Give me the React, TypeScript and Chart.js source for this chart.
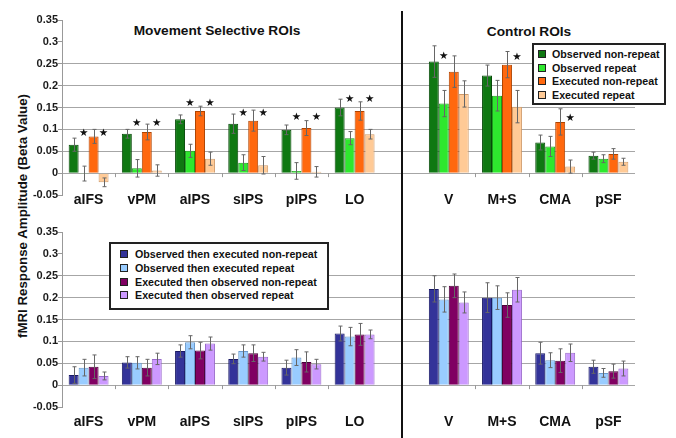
import React, { useEffect, useRef } from "react";
import { Chart, registerables } from "chart.js";

Chart.register(...registerables);

// ---------- data ----------
const movementRois = ["aIFS", "vPM", "aIPS", "sIPS", "pIPS", "LO"];
const controlRois = ["V", "M+S", "CMA", "pSF"];
const categories = [...movementRois, ...controlRois];
const yTickLabels = ["-0.05", "0", "0.05", "0.1", "0.15", "0.2", "0.25", "0.3", "0.35"];

// top panel
const obsNonRepeat = [0.065, 0.09, 0.123, 0.113, 0.099, 0.15, 0.255, 0.223, 0.07, 0.04];
const obsNonRepeatErr = [0.015, 0.01, 0.01, 0.022, 0.011, 0.019, 0.036, 0.024, 0.017, 0.008];
const obsRepeat = [-0.001, 0.011, 0.051, 0.024, 0.005, 0.08, 0.159, 0.177, 0.061, 0.033];
const obsRepeatErr = [0.017, 0.02, 0.015, 0.018, 0.019, 0.015, 0.03, 0.035, 0.023, 0.009];
const exeNonRepeat = [0.084, 0.094, 0.142, 0.12, 0.103, 0.142, 0.232, 0.248, 0.117, 0.044];
const exeNonRepeatErr = [0.016, 0.018, 0.011, 0.024, 0.017, 0.021, 0.036, 0.03, 0.03, 0.012];
const exeRepeat = [-0.021, 0.006, 0.033, 0.018, 0.003, 0.089, 0.181, 0.152, 0.015, 0.026];
const exeRepeatErr = [0.01, 0.013, 0.015, 0.02, 0.012, 0.011, 0.03, 0.037, 0.015, 0.008];
// significance stars (height of star)
const obsRepeatStars = [0.091, 0.113, 0.16, 0.136, 0.128, 0.169, 0.267, null, null, null];
const exeRepeatStars = [0.091, 0.113, 0.16, 0.136, 0.128, 0.169, null, 0.265, 0.126, null];

// bottom panel
const obsExeNonRepeat = [0.023, 0.052, 0.078, 0.06, 0.04, 0.118, 0.22, 0.2, 0.073, 0.042];
const obsExeNonRepeatErr = [0.019, 0.013, 0.014, 0.011, 0.017, 0.017, 0.03, 0.034, 0.025, 0.015];
const obsExeRepeat = [0.04, 0.051, 0.098, 0.078, 0.063, 0.111, 0.196, 0.2, 0.057, 0.028];
const obsExeRepeatErr = [0.019, 0.014, 0.015, 0.014, 0.018, 0.021, 0.029, 0.027, 0.017, 0.01];
const exeObsNonRepeat = [0.042, 0.04, 0.079, 0.073, 0.053, 0.116, 0.227, 0.183, 0.056, 0.032];
const exeObsNonRepeatErr = [0.027, 0.019, 0.019, 0.019, 0.023, 0.025, 0.027, 0.028, 0.027, 0.016];
const exeObsRepeat = [0.021, 0.06, 0.095, 0.065, 0.048, 0.116, 0.189, 0.218, 0.074, 0.038];
const exeObsRepeatErr = [0.009, 0.013, 0.015, 0.01, 0.011, 0.01, 0.024, 0.028, 0.02, 0.017];

// ---------- layout / style ----------
const W = 676;
const AREA_LEFT = 62;
const AREA_RIGHT = 635;
const GROUP_GAP = 0.77; // extra category slots between the two ROI groups
const FONT = '"Liberation Sans", Arial, Helvetica, sans-serif';

const xPositions = categories.map((_, i) => i + (i >= movementRois.length ? GROUP_GAP : 0));
const xMin = -0.5;
const xMax = xPositions[xPositions.length - 1] + 0.5;

type Series = {
  label: string;
  values: number[];
  errors: number[];
  stars?: (number | null)[];
  fill: string;
  border: string;
};

const topSeries: Series[] = [
  { label: "Observed non-repeat", values: obsNonRepeat, errors: obsNonRepeatErr, fill: "#0f7812", border: "#084a0a" },
  { label: "Observed repeat", values: obsRepeat, errors: obsRepeatErr, stars: obsRepeatStars, fill: "#2ee82e", border: "#1a9a1a" },
  { label: "Executed non-repeat", values: exeNonRepeat, errors: exeNonRepeatErr, fill: "#ff680e", border: "#b04400" },
  { label: "Executed repeat", values: exeRepeat, errors: exeRepeatErr, stars: exeRepeatStars, fill: "#ffca96", border: "#d09a68" },
];

const bottomSeries: Series[] = [
  { label: "Observed then executed non-repeat", values: obsExeNonRepeat, errors: obsExeNonRepeatErr, fill: "#333399", border: "#1a1a66" },
  { label: "Observed then executed repeat", values: obsExeRepeat, errors: obsExeRepeatErr, fill: "#99ccff", border: "#6a9acc" },
  { label: "Executed then observed non-repeat", values: exeObsNonRepeat, errors: exeObsNonRepeatErr, fill: "#800062", border: "#4a0038" },
  { label: "Executed then observed repeat", values: exeObsRepeat, errors: exeObsRepeatErr, fill: "#cc99ff", border: "#9a6acc" },
];

const decorPlugin = {
  id: "decor",
  afterDatasetsDraw(chart: any, _args: any, opts: any) {
    const ctx = chart.ctx;
    const xs = chart.scales.x;
    const ys = chart.scales.y;
    const y0 = ys.getPixelForValue(0);
    ctx.save();
    // small boundary ticks on zero line
    ctx.strokeStyle = "#999";
    ctx.lineWidth = 1;
    for (let i = 1; i < xPositions.length; i++) {
      if (i === movementRois.length) continue;
      const px = Math.round(xs.getPixelForValue((xPositions[i - 1] + xPositions[i]) / 2)) + 0.5;
      ctx.beginPath();
      ctx.moveTo(px, y0);
      ctx.lineTo(px, y0 + 4);
      ctx.stroke();
    }
    // error bars
    chart.data.datasets.forEach((ds: any, di: number) => {
      const meta = chart.getDatasetMeta(di);
      meta.data.forEach((bar: any, i: number) => {
        const v = ds.values[i];
        const e = ds.errors[i];
        const x = Math.round(bar.x) + 0.5;
        const yt = ys.getPixelForValue(v + e);
        const yb = ys.getPixelForValue(v - e);
        ctx.strokeStyle = "#666";
        ctx.lineWidth = 1;
        ctx.beginPath();
        ctx.moveTo(x, yt);
        ctx.lineTo(x, yb);
        ctx.moveTo(x - 2, yt);
        ctx.lineTo(x + 2, yt);
        ctx.moveTo(x - 2, yb);
        ctx.lineTo(x + 2, yb);
        ctx.stroke();
      });
    });
    // significance stars
    ctx.fillStyle = "#111";
    ctx.font = '10.5px "DejaVu Sans"';
    ctx.textAlign = "center";
    ctx.textBaseline = "middle";
    chart.data.datasets.forEach((ds: any, di: number) => {
      if (!ds.stars) return;
      const meta = chart.getDatasetMeta(di);
      meta.data.forEach((bar: any, i: number) => {
        const s = ds.stars[i];
        if (s === null || s === undefined) return;
        ctx.fillText("\u2605", bar.x, ys.getPixelForValue(s));
      });
    });
    // category labels below the value axis
    ctx.font = `bold 14px ${FONT}`;
    ctx.fillStyle = "#111";
    ctx.textAlign = "center";
    const ly = ys.getPixelForValue(ys.min) + opts.labelOffset;
    categories.forEach((c, i) => {
      ctx.fillText(c, xs.getPixelForValue(xPositions[i]), ly);
    });
    // group divider
    const dx = xs.getPixelForValue((xPositions[movementRois.length - 1] + xPositions[movementRois.length]) / 2);
    ctx.fillStyle = "#111";
    ctx.fillRect(Math.round(dx) - 1, opts.dividerTop || 0, 2, chart.height);
    ctx.restore();
  },
};

function Panel(props: {
  top: number;
  height: number;
  areaTop: number;
  areaBottom: number;
  labelOffset: number;
  dividerTop: number;
  series: Series[];
}) {
  const ref = useRef<HTMLCanvasElement | null>(null);
  useEffect(() => {
    const { height, areaTop, areaBottom, labelOffset, dividerTop, series } = props;
    const chart = new Chart(ref.current as HTMLCanvasElement, {
      type: "bar",
      data: {
        datasets: series.map((s) => ({
          label: s.label,
          data: s.values.map((v, i) => ({ x: xPositions[i], y: v })),
          values: s.values,
          errors: s.errors,
          stars: s.stars,
          backgroundColor: s.fill,
          borderColor: s.border,
          borderWidth: 1,
          categoryPercentage: 0.75,
          barPercentage: 1,
        })) as any,
      },
      options: {
        animation: false,
        responsive: false,
        maintainAspectRatio: false,
        devicePixelRatio: 1,
        layout: { padding: { left: 0, right: W - AREA_RIGHT, top: areaTop, bottom: height - areaBottom } },
        plugins: {
          legend: { display: false },
          tooltip: { enabled: false },
          decor: { dividerTop, labelOffset },
        } as any,
        scales: {
          x: { type: "linear", display: false, min: xMin, max: xMax, offset: false },
          y: {
            min: -0.05,
            max: 0.35,
            afterBuildTicks: (axis: any) => {
              axis.ticks = yTickLabels.map((s) => ({ value: parseFloat(s) }));
            },
            afterFit: (axis: any) => {
              axis.width = AREA_LEFT;
            },
            ticks: {
              autoSkip: false,
              padding: 0,
              color: "#1a1a1a",
              font: { family: FONT, size: 11, weight: "bold" },
              callback: (_v: any, i: number) => yTickLabels[i],
            },
            grid: {
              color: (c: any) =>
                c.tick && c.tick.value > -0.001 && c.tick.value < 0.251 ? "#a6a6a6" : "rgba(0,0,0,0)",
              tickColor: "#999",
              tickLength: 4,
              lineWidth: 1,
            },
            border: { display: true, color: "#999" },
          },
        },
      } as any,
      plugins: [decorPlugin],
    });
    return () => chart.destroy();
  }, []);
  return (
    <canvas
      ref={ref}
      width={W}
      height={props.height}
      style={{ position: "absolute", left: 0, top: props.top, width: W, height: props.height }}
    />
  );
}

function Legend(props: { series: Series[]; left: number; top: number; width: number; height: number; rowTops: number[]; swatchLeft: number; textLeft: number }) {
  return (
    <div
      style={{
        position: "absolute",
        left: props.left,
        top: props.top,
        width: props.width,
        height: props.height,
        boxSizing: "border-box",
        border: "2px solid #222",
        background: "#fff",
      }}
    >
      {props.series.map((s, i) => (
        <div key={s.label} style={{ position: "absolute", left: 0, top: props.rowTops[i], height: 13, width: "100%" }}>
          <div
            style={{
              position: "absolute",
              left: props.swatchLeft,
              top: 2,
              width: 8,
              height: 8,
              boxSizing: "border-box",
              background: s.fill,
              border: "1px solid #222",
            }}
          />
          <div
            style={{
              position: "absolute",
              left: props.textLeft,
              top: 0,
              font: `bold 10.7px ${FONT}`,
              lineHeight: "13px",
              color: "#111",
              whiteSpace: "nowrap",
            }}
          >
            {s.label}
          </div>
        </div>
      ))}
    </div>
  );
}

const titleStyle: React.CSSProperties = {
  position: "absolute",
  font: `bold 13.7px ${FONT}`,
  color: "#111",
  whiteSpace: "nowrap",
  transform: "translate(-50%, -50%)",
};

export default function App() {
  return (
    <div style={{ position: "absolute", left: 0, top: 0, width: W, height: 438, background: "#fff", overflow: "hidden" }}>
      <div style={{ ...titleStyle, left: 217, top: 30 }}>Movement Selective ROIs</div>
      <div style={{ ...titleStyle, left: 529, top: 31 }}>Control ROIs</div>
      <div
        style={{
          position: "absolute",
          left: 22,
          top: 216,
          font: `bold 13.3px ${FONT}`,
          color: "#111",
          whiteSpace: "nowrap",
          transform: "translate(-50%, -50%) rotate(-90deg)",
        }}
      >
        fMRI Response Amplitude (Beta Value)
      </div>
      <Panel top={0} height={219} areaTop={20} areaBottom={195} labelOffset={5} dividerTop={11} series={topSeries} />
      <Panel top={219} height={219} areaTop={13} areaBottom={188} labelOffset={15} dividerTop={0} series={bottomSeries} />
      <Legend series={topSeries} left={532} top={43} width={134} height={62} rowTops={[3, 17, 30, 44]} swatchLeft={4} textLeft={18} />
      <Legend series={bottomSeries} left={109} top={242} width={220} height={68} rowTops={[4, 18, 32, 45]} swatchLeft={9} textLeft={24} />
    </div>
  );
}
